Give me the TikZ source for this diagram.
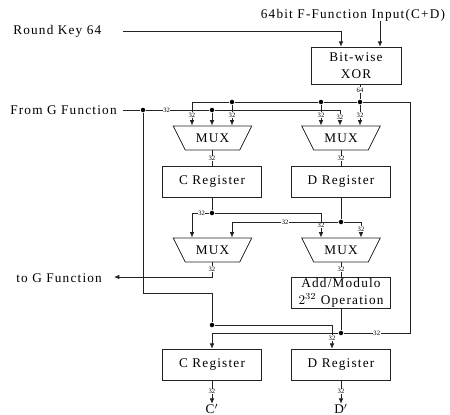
\documentclass[tikz,border=0pt]{standalone}
\usepackage{fontspec}
\setmainfont{Liberation Serif}
\newfontfamily\widefont[LetterSpace=9]{Liberation Serif}
\usetikzlibrary{arrows.meta,positioning,shapes.geometric}
\definecolor{wireink}{RGB}{35,35,35}
\tikzset{
  regbox/.style={draw=wireink,line width=0.6pt,minimum width=2.62cm,minimum height=0.84cm,inner sep=0pt,font=\widefont\fontsize{10}{13}\selectfont,align=center},
  muxbox/.style={draw=wireink,line width=0.6pt,trapezium,shape border rotate=180,trapezium stretches=true,trapezium angle=50,minimum width=2.09cm,minimum height=0.64cm,inner sep=0pt,font=\widefont\fontsize{10}{10}\selectfont},
  sidetext/.style={font=\widefont\fontsize{10}{10}\selectfont,inner sep=0pt},
  buswidth/.style={fill=white,font=\fontsize{5}{6}\selectfont,inner sep=0.4pt},
  junction/.style={circle,fill=black,inner sep=0pt,minimum size=3.4pt},
  wire/.style={draw=wireink,line width=0.6pt},
  feed/.style={wire,-{Latex[length=4pt,width=3.5pt]}}
}
\begin{document}
\begin{tikzpicture}[x=0.0265cm,y=-0.0265cm]
  \useasboundingbox (0,0) rectangle (450,415);
  % text on the outside
  \node[sidetext,anchor=west] (roundkey) at (13,31) {Round Key 64};
  \node[sidetext] (finput) at (353,15) {64bit F-Function Input(C+D)};
  \node[sidetext,anchor=west] (fromg) at (10,110) {From G Function};
  \node[sidetext,anchor=west] (tog) at (16,278) {to G Function};
  % boxes
  \node[regbox,minimum width=2.38cm,minimum height=1.0cm] (xor) at (356,66) {Bit-wise\\XOR};
  \node[muxbox] (muxa) at (212.5,138) {MUX};
  \node[muxbox] (muxb) at (341,138) {MUX};
  \node[regbox,minimum height=0.82cm] (rega) at (212,182) {C Register};
  \node[regbox,minimum height=0.82cm] (regb) at (341,182) {D Register};
  \node[muxbox] (muxc) at (212.5,250) {MUX};
  \node[muxbox] (muxd) at (341,250) {MUX};
  \node[regbox] (addmod) at (341,293) {Add/Modulo\\$2^{32}$ Operation};
  \node[regbox] (regc) at (212,365) {C Register};
  \node[regbox] (regd) at (341,365) {D Register};
  \node[sidetext,anchor=base] (cout) at (212,414) {C$'$};
  \node[sidetext,anchor=base] (dout) at (341,414) {D$'$};
  % free ends and junctions
  \coordinate (keystart) at (123,31);
  \coordinate (keytap) at (341,31);
  \coordinate (inputtop) at (380,21);
  \coordinate (gstart) at (123,110);
  \coordinate (gend) at (340,110);
  \coordinate (busleft) at (192,102);
  \coordinate (busright) at (410,102);
  \coordinate (sumright) at (410,333);
  \coordinate (gdrop) at (143,293);
  \coordinate (gturn) at (212,293);
  \coordinate (cleft) at (192,213);
  \coordinate (cright) at (321,213);
  \coordinate (dleft) at (232,222);
  \coordinate (dright) at (361,222);
  \coordinate (mcturn) at (212,277);
  \coordinate (togend) at (114,277);
  \coordinate (sumleft) at (212,333);
  \coordinate (gdright) at (332,325);
  \node[junction] (busa) at (232,102) {};
  \node[junction] (busb) at (321,102) {};
  \node[junction] (busc) at (360,102) {};
  \node[junction] (ga) at (143,110) {};
  \node[junction] (gb) at (212,110) {};
  \node[junction] (cdot) at (212,213) {};
  \node[junction] (ddot) at (341,222) {};
  \node[junction] (gdot) at (212,325) {};
  \node[junction] (sumdot) at (341,333) {};
  % key and input
  \draw[feed] (keystart) -- (keytap) -- (xor.north -| keytap);
  \draw[feed] (inputtop) -- (xor.north -| inputtop);
  % xor output bus
  \draw[wire] (xor.south -| busc) -- node[buswidth,pos=0.35] {64} (busc);
  \draw[wire] (busleft) -- (busa) -- (busb) -- (busc) -- (busright) -- (sumright) -- node[buswidth] {32} (sumdot);
  \draw[feed] (busc) -- node[buswidth,pos=0.5] {32} (muxb.north -| busc);
  \draw[feed] (busb) -- node[buswidth,pos=0.5] {32} (muxb.north -| busb);
  \draw[feed] (busa) -- node[buswidth,pos=0.5] {32} (muxa.north -| busa);
  \draw[feed] (busleft) -- node[buswidth,pos=0.55] {32} (muxa.north -| busleft);
  % from G
  \draw[wire] (gstart) -- (ga) -- node[buswidth,pos=0.33] {32} (gb) -- (gend);
  \draw[feed] (gend) -- node[buswidth,pos=0.45] {32} (muxb.north -| gend);
  \draw[feed] (gb) -- (muxa.north -| gb);
  \draw[wire] (ga) -- (gdrop) -- (gturn) -- (gdot);
  % first mux row to registers
  \draw[wire] (muxa.south -| rega) -- node[buswidth] {32} (rega);
  \draw[wire] (muxb.south -| regb) -- node[buswidth] {32} (regb);
  \draw[wire] (rega) -- (cdot);
  \draw[wire] (regb) -- (ddot);
  % swap wires
  \draw[feed] (cdot) -- node[buswidth,pos=0.45] {32} (cleft) -- (muxc.north -| cleft);
  \draw[feed] (cdot) -- (cright) -- node[buswidth,pos=0.5] {32} (muxd.north -| cright);
  \draw[feed] (ddot) -- node[buswidth,pos=0.5] {32} (dleft) -- (muxc.north -| dleft);
  \draw[feed] (ddot) -- (dright) -- node[buswidth,pos=0.45] {32} (muxd.north -| dright);
  % second mux row
  \draw[feed] (muxc.south -| mcturn) -- node[buswidth,pos=0.45] {32} (mcturn) -- (togend);
  \draw[wire] (muxd.south -| addmod) -- node[buswidth] {32} (addmod);
  % back to registers
  \draw[wire] (addmod) -- (sumdot);
  \draw[feed] (sumdot) -- (sumleft) -- (regc.north -| sumleft);
  \draw[feed] (gdot) -- (gdright) -- node[buswidth,pos=0.55] {32} (regd.north -| gdright);
  \draw[feed] (regc) -- node[buswidth,pos=0.45] {32} (cout);
  \draw[feed] (regd) -- node[buswidth,pos=0.45] {32} (dout);
\end{tikzpicture}
\end{document}
